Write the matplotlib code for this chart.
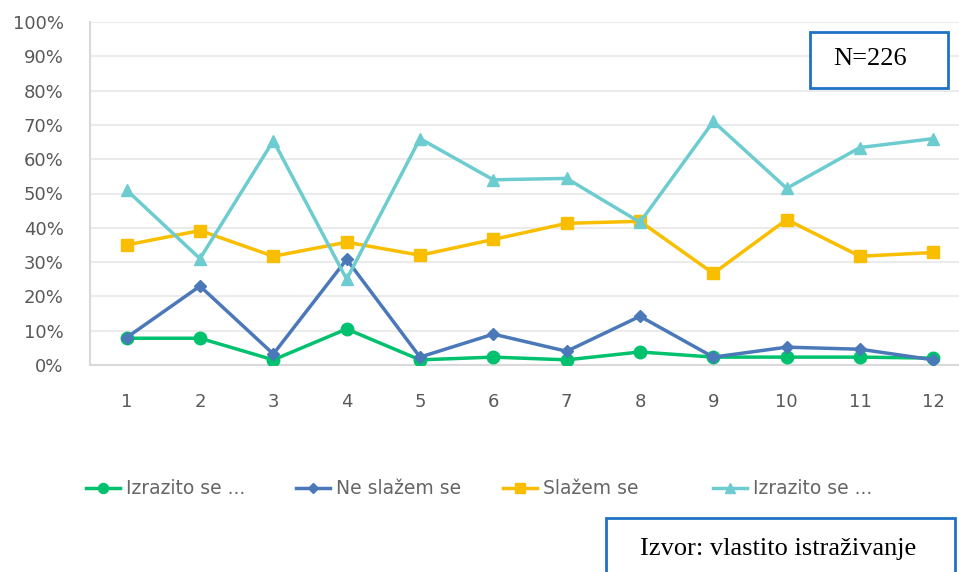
import numpy as np
import matplotlib.pyplot as plt
from matplotlib.patches import Rectangle
from matplotlib.ticker import PercentFormatter

# data
items = [1, 2, 3, 4, 5, 6, 7, 8, 9, 10, 11, 12]
izrazito_ne = [7.8, 7.8, 1.5, 10.5, 1.5, 2.3, 1.5, 3.8, 2.3, 2.3, 2.3, 2.0]
ne_slazem = [8.0, 23.0, 3.2, 30.8, 2.3, 9.0, 4.0, 14.2, 2.3, 5.2, 4.6, 1.5]
slazem = [35.0, 39.2, 31.7, 35.8, 32.0, 36.6, 41.3, 41.9, 26.7, 42.4, 31.7, 32.8]
izrazito_da = [51.0, 31.0, 65.4, 25.0, 66.0, 54.0, 54.4, 41.6, 71.0, 51.5, 63.4, 66.0]

labels = ["Izrazito se ...", "Ne slažem se", "Slažem se", "Izrazito se ..."]
colors = ["#00C16E", "#4A78B8", "#F9BE00", "#6CCCCF"]
markers = ["o", "D", "s", "^"]
msizes = [9, 6, 9, 9]

W, H = 959, 572
fig = plt.figure(figsize=(W / 100, H / 100), dpi=100)
ax = fig.add_axes([90 / W, 1 - 365 / H, 869 / W, 343 / H])

series = [izrazito_ne, ne_slazem, slazem, izrazito_da]
lines = []
for vals, lab, c, m, ms in zip(series, labels, colors, markers, msizes):
    ln, = ax.plot(items, vals, color=c, marker=m, markersize=ms, linewidth=2.5,
                  label=lab, zorder=3)
    lines.append(ln)

ax.set_xlim(0.5, 12.35)
ax.set_ylim(0, 100)
ax.set_xticks(items)
ax.set_yticks(np.arange(0, 101, 10))
ax.yaxis.set_major_formatter(PercentFormatter(decimals=0))
ax.grid(axis="y", color="#EBEBEB", linewidth=1.5)
ax.set_axisbelow(True)
for s in ["top", "right"]:
    ax.spines[s].set_visible(False)
for s in ["left", "bottom"]:
    ax.spines[s].set_color("#D9D9D9")
    ax.spines[s].set_linewidth(1.5)
ax.tick_params(length=0, labelsize=13, colors="#595959")
ax.tick_params(axis="x", pad=20)
ax.tick_params(axis="y", pad=19)

# legend: one entry per slot, evenly spaced as in the original
slots = [86, 296, 503, 713]
for ln, lab, x0 in zip(lines, labels, slots):
    leg = fig.legend([ln], [lab], loc="center left",
                     bbox_to_anchor=(x0 / W, 1 - 489 / H), frameon=False,
                     fontsize=13.5, handlelength=1.8, handletextpad=0.35,
                     markerscale=0.8, borderpad=0, borderaxespad=0)
    for t in leg.get_texts():
        t.set_color("#666666")

# text boxes
blue = "#1F72C4"
fig.patches.append(Rectangle((810 / W, 1 - 88 / H), 138 / W, 56 / H,
                             transform=fig.transFigure, facecolor="white",
                             edgecolor=blue, linewidth=2, zorder=5))
fig.text(870 / W, 1 - 59 / H, "N=226", ha="center", va="center",
         fontsize=19, family="Liberation Serif", zorder=6)
fig.patches.append(Rectangle((606 / W, -0.02), 349 / W, 54 / H + 0.02,
                             transform=fig.transFigure, facecolor="white",
                             edgecolor=blue, linewidth=2, zorder=5))
fig.text(778 / W, 1 - 549 / H, "Izvor: vlastito istraživanje", ha="center",
         va="center", fontsize=19, family="Liberation Serif", zorder=6)

fig.savefig("out.png", dpi=100)
